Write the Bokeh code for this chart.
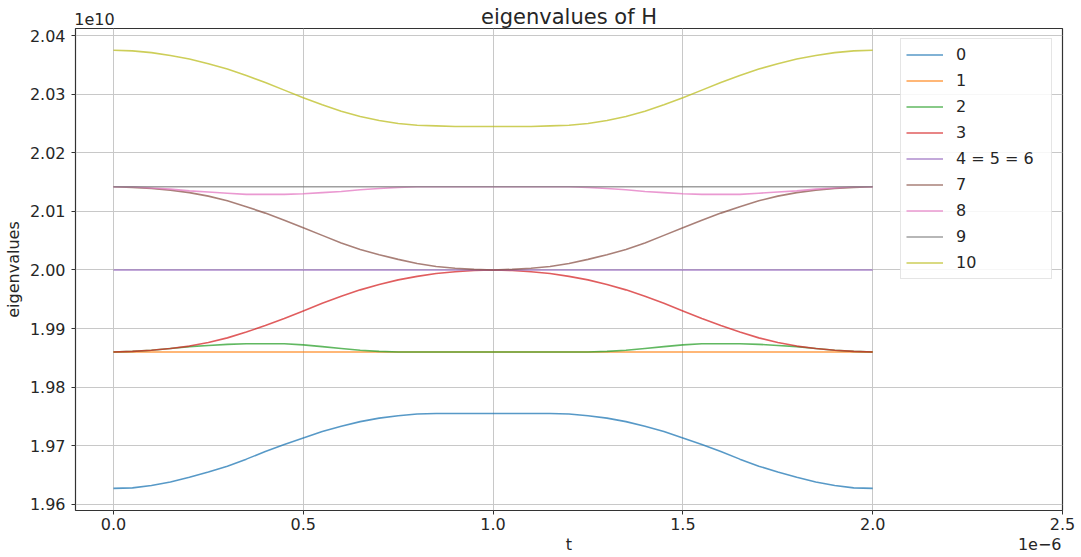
from bokeh.plotting import figure
from bokeh.models import Range1d, FixedTicker, PrintfTickFormatter, LinearAxis
from bokeh.embed import file_html
from bokeh.resources import INLINE

# ---------------- data (t in units of 1e-6, eigenvalues in units of 1e10) ----------------
t = [0.00, 0.05, 0.10, 0.15, 0.20, 0.25, 0.30, 0.35, 0.40, 0.45, 0.50,
     0.55, 0.60, 0.65, 0.70, 0.75, 0.80, 0.85, 0.90, 0.95, 1.00,
     1.05, 1.10, 1.15, 1.20, 1.25, 1.30, 1.35, 1.40, 1.45, 1.50,
     1.55, 1.60, 1.65, 1.70, 1.75, 1.80, 1.85, 1.90, 1.95, 2.00]
t_flat = [0.0, 2.0]

e0 = [1.9627, 1.9628, 1.9632, 1.9638, 1.9646, 1.9655, 1.9665, 1.9677, 1.9690, 1.9702, 1.9713,
      1.9724, 1.9733, 1.9741, 1.9747, 1.9751, 1.9754, 1.9755, 1.9755, 1.9755, 1.9755,
      1.9755, 1.9755, 1.9755, 1.9754, 1.9751, 1.9747, 1.9741, 1.9733, 1.9724, 1.9713,
      1.9702, 1.9690, 1.9677, 1.9665, 1.9655, 1.9646, 1.9638, 1.9632, 1.9628, 1.9627]
e1 = [1.9860, 1.9860]
e2 = [1.9860, 1.9861, 1.9863, 1.9866, 1.9869, 1.9871, 1.9873, 1.9874, 1.9874, 1.9874, 1.9872,
      1.9869, 1.9866, 1.9863, 1.9861, 1.9860, 1.9860, 1.9860, 1.9860, 1.9860, 1.9860,
      1.9860, 1.9860, 1.9860, 1.9860, 1.9860, 1.9861, 1.9863, 1.9866, 1.9869, 1.9872,
      1.9874, 1.9874, 1.9874, 1.9873, 1.9871, 1.9869, 1.9866, 1.9863, 1.9861, 1.9860]
e3 = [1.9860, 1.9861, 1.9863, 1.9866, 1.9870, 1.9876, 1.9884, 1.9894, 1.9905, 1.9917, 1.9930,
      1.9943, 1.9955, 1.9966, 1.9975, 1.9983, 1.9989, 1.9994, 1.9997, 1.9999, 2.0000,
      1.9999, 1.9997, 1.9994, 1.9989, 1.9983, 1.9975, 1.9966, 1.9955, 1.9943, 1.9930,
      1.9917, 1.9905, 1.9894, 1.9884, 1.9876, 1.9870, 1.9866, 1.9863, 1.9861, 1.9860]
e456 = [2.0000, 2.0000]
e7 = [2.0142, 2.0141, 2.0139, 2.0136, 2.0132, 2.0126, 2.0118, 2.0108, 2.0097, 2.0085, 2.0072,
      2.0059, 2.0046, 2.0035, 2.0026, 2.0018, 2.0011, 2.0006, 2.0003, 2.0001, 2.0000,
      2.0001, 2.0003, 2.0006, 2.0011, 2.0018, 2.0026, 2.0035, 2.0046, 2.0059, 2.0072,
      2.0085, 2.0097, 2.0108, 2.0118, 2.0126, 2.0132, 2.0136, 2.0139, 2.0141, 2.0142]
e8 = [2.0142, 2.0142, 2.0140, 2.0138, 2.0135, 2.0133, 2.0131, 2.0129, 2.0129, 2.0129, 2.0130,
      2.0132, 2.0134, 2.0137, 2.0139, 2.0141, 2.0142, 2.0142, 2.0142, 2.0142, 2.0142,
      2.0142, 2.0142, 2.0142, 2.0142, 2.0141, 2.0139, 2.0137, 2.0134, 2.0132, 2.0130,
      2.0129, 2.0129, 2.0129, 2.0131, 2.0133, 2.0135, 2.0138, 2.0140, 2.0142, 2.0142]
e9 = [2.0142, 2.0142]
e10 = [2.0375, 2.0374, 2.0371, 2.0366, 2.0360, 2.0352, 2.0343, 2.0332, 2.0320, 2.0307, 2.0294,
       2.0282, 2.0271, 2.0262, 2.0255, 2.0250, 2.0247, 2.0246, 2.0245, 2.0245, 2.0245,
       2.0245, 2.0245, 2.0246, 2.0247, 2.0250, 2.0255, 2.0262, 2.0271, 2.0282, 2.0294,
       2.0307, 2.0320, 2.0332, 2.0343, 2.0352, 2.0360, 2.0366, 2.0371, 2.0374, 2.0375]

labels = ["0", "1", "2", "3", "4 = 5 = 6", "7", "8", "9", "10"]
x_ticks = [0.0, 0.5, 1.0, 1.5, 2.0, 2.5]
y_ticks = [1.96, 1.97, 1.98, 1.99, 2.00, 2.01, 2.02, 2.03, 2.04]
title_text = "eigenvalues of H"
y_label = "eigenvalues"
x_label = "t"
y_offset_text = "1e10"
x_offset_text = "1e\u22126"

# ---------------- styling ----------------
FONT = "DejaVu Sans"
TXT = "#262626"
colors = ["#1f77b4", "#ff7f0e", "#2ca02c", "#d62728", "#9467bd",
          "#8c564b", "#e377c2", "#7f7f7f", "#bcbd22"]
X_LO, X_HI = -0.1, 2.5
Y_LO, Y_HI = 1.95893, 2.04122
W, H = 1081, 557

p = figure(width=W, height=H, output_backend="svg", toolbar_location=None, title=None,
           x_range=Range1d(X_LO, X_HI), y_range=Range1d(Y_LO, Y_HI),
           min_border_left=74, min_border_right=W - 1062, min_border_top=28,
           min_border_bottom=H - 510)
p.background_fill_color = "white"
p.border_fill_color = "white"
p.outline_line_color = "#333333"
p.outline_line_width = 1.2

xa = p.xaxis[0]
ya = p.yaxis[0]
xa.ticker = FixedTicker(ticks=x_ticks)
ya.ticker = FixedTicker(ticks=y_ticks)
xa.formatter = PrintfTickFormatter(format="%.1f")
ya.formatter = PrintfTickFormatter(format="%.2f")


def style_axis(ax):
    ax.major_label_text_font = FONT
    ax.major_label_text_font_size = "16px"
    ax.major_label_text_color = TXT
    ax.axis_line_color = None
    ax.minor_tick_line_color = None
    ax.axis_label_text_font = FONT
    ax.axis_label_text_font_style = "normal"
    ax.axis_label_text_color = TXT


for ax in (xa, ya):
    style_axis(ax)
    ax.major_tick_line_color = "#333333"
    ax.major_tick_out = 4
    ax.major_tick_in = 0
xa.major_label_standoff = 3
ya.major_label_standoff = 6
ya.axis_label = y_label
ya.axis_label_text_font_size = "16px"
ya.axis_label_standoff = 4

# top row: offset text "1e10" (tick label) and the title (axis label pulled into the same row)
top_ax = LinearAxis(ticker=FixedTicker(ticks=[-0.05]),
                    major_label_overrides={-0.05: y_offset_text})
style_axis(top_ax)
top_ax.major_tick_line_color = None
top_ax.major_tick_out = 0
top_ax.major_tick_in = 0
top_ax.major_label_standoff = 4
top_ax.axis_label = title_text
top_ax.axis_label_text_font_size = "21px"
top_ax.axis_label_standoff = -19
p.add_layout(top_ax, "above")

# bottom row: "t" and offset text "1e-6"
bot_ax = LinearAxis(ticker=FixedTicker(ticks=[1.2, 2.44]),
                    major_label_overrides={1.2: x_label, 2.44: x_offset_text})
style_axis(bot_ax)
bot_ax.major_tick_line_color = None
bot_ax.major_tick_out = 0
bot_ax.major_tick_in = 0
bot_ax.major_label_standoff = 2
p.add_layout(bot_ax, "below")

for g in (p.xgrid[0], p.ygrid[0]):
    g.grid_line_color = "#c8c8c8"
    g.grid_line_width = 1

series = [(t, e0), (t_flat, e1), (t, e2), (t, e3), (t_flat, e456),
          (t, e7), (t, e8), (t_flat, e9), (t, e10)]
for (xs, ys), lab, col in zip(series, labels, colors):
    p.line(xs, ys, line_color=col, line_width=1.6, line_alpha=0.75, legend_label=lab)

lg = p.legend[0]
lg.location = "top_right"
lg.margin = 10
lg.padding = 5
lg.spacing = 5
lg.label_height = 21
lg.glyph_height = 21
lg.glyph_width = 37
lg.label_standoff = 13
lg.label_width = 90
lg.label_text_font = FONT
lg.label_text_font_size = "16px"
lg.label_text_color = TXT
lg.border_line_color = "#cccccc"
lg.border_line_width = 1
lg.background_fill_alpha = 0.85

open("out.html", "w").write(file_html(p, INLINE))
